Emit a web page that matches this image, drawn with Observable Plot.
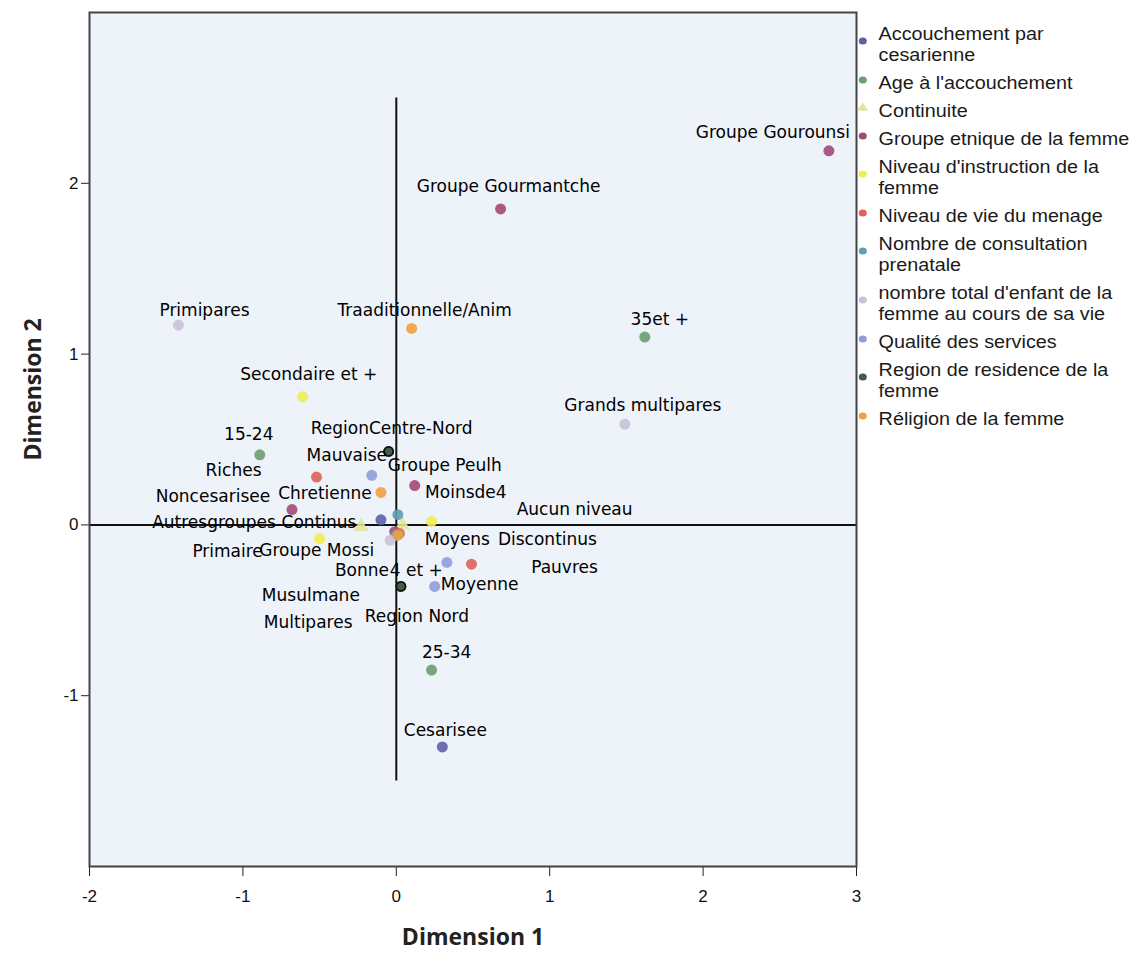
<!DOCTYPE html>
<html>
<head>
<meta charset="utf-8">
<script src="https://cdn.jsdelivr.net/npm/d3@7"></script>
<script src="https://cdn.jsdelivr.net/npm/@observablehq/plot@0.6"></script>
<style>
  body { margin: 0; background: #fff; }
  #wrap { position: relative; width: 1136px; height: 956px; overflow: hidden; }
  #chart { position: absolute; left: 0; top: 0; }
  #legend { position: absolute; left: 856px; top: 24px; font-family: "Liberation Sans", Arial, sans-serif; font-size: 17.5px; color: #1a1a1a; transform: scaleX(1.13); transform-origin: 0 0; }
  .item { position: relative; padding-left: 20px; line-height: 21px; margin-bottom: 7px; white-space: pre; }
  .item svg { position: absolute; left: 0; }
</style>
</head>
<body>
<div id="wrap">
  <div id="chart"></div>
  <div id="legend"></div>
</div>
<script>
// ---- Data ----
const groups = [
  "Accouchement par cesarienne",
  "Age à l'accouchement",
  "Continuite",
  "Groupe etnique de la femme",
  "Niveau d'instruction de la femme",
  "Niveau de vie du menage",
  "Nombre de consultation prenatale",
  "nombre total d'enfant de la femme au cours de sa vie",
  "Qualité des services",
  "Region de residence de la femme",
  "Réligion de la femme"
];
const legendLabels = [
  "Accouchement par\ncesarienne",
  "Age à l'accouchement",
  "Continuite",
  "Groupe etnique de la femme",
  "Niveau d'instruction de la\nfemme",
  "Niveau de vie du menage",
  "Nombre de consultation\nprenatale",
  "nombre total d'enfant de la\nfemme au cours de sa vie",
  "Qualité des services",
  "Region de residence de la\nfemme",
  "Réligion de la femme"
];
const groupColors = ["#5d60a8", "#6a9f70", "#e3e39a", "#a04a78", "#f0ee52", "#e0625a", "#5c9fae", "#c9c2d8", "#8f9ddc", "#3f5f49", "#f0a040"];
const groupSymbols = ["circle", "circle", "triangle", "circle", "circle", "circle", "circle", "circle", "circle", "circle", "circle"];

const categories = [
  "Cesarisee", "Noncesarisee",
  "15-24", "25-34", "35et +",
  "Continus", "Discontinus",
  "Groupe Gourounsi", "Groupe Gourmantche", "Groupe Peulh", "Autresgroupes", "Groupe Mossi",
  "Secondaire et +", "Primaire", "Aucun niveau",
  "Riches", "Moyens", "Pauvres",
  "Moinsde4", "4 et +",
  "Primipares", "Grands multipares", "Multipares",
  "Mauvaise", "Moyenne", "Bonne",
  "RegionCentre-Nord", "Region Nord",
  "Traaditionnelle/Anim", "Chretienne", "Musulmane"
];
const categoryGroup = [0, 0, 1, 1, 1, 2, 2, 3, 3, 3, 3, 3, 4, 4, 4, 5, 5, 5, 6, 6, 7, 7, 7, 8, 8, 8, 9, 9, 10, 10, 10];
const dim1 = [0.30, -0.10, -0.89, 0.23, 1.62, -0.23, 0.04, 2.82, 0.68, 0.12, -0.68, -0.01, -0.61, -0.50, 0.23, -0.52, 0.02, 0.49, 0.01, 0.00, -1.42, 1.49, -0.04, -0.16, 0.25, 0.33, -0.05, 0.03, 0.10, -0.10, 0.01];
const dim2 = [-1.30, 0.03, 0.41, -0.85, 1.10, -0.01, 0.00, 2.19, 1.85, 0.23, 0.09, -0.04, 0.75, -0.08, 0.02, 0.28, -0.05, -0.23, 0.06, -0.06, 1.17, 0.59, -0.09, 0.29, -0.36, -0.22, 0.43, -0.36, 1.15, 0.19, -0.06];

const xTicks = [-2, -1, 0, 1, 2, 3];
const yTicks = [-1, 0, 1, 2];
const refX = [{x: 0, y1: 2.5, y2: -1.5}];
const refY = [0];

// ---- Layout (label offsets in px, relative to point) ----
const labelDx = [3, -168, -11, 15, 15, -42, 145, -56, 8, 30, -78, -78, 6, -92, 143, -83, 58, 93, 68, 20, 26, 18, -82, -25, 45, -85, 3, 16, 13, -56, -87];
const labelDy = [-16, -23, -20, -18, -17, -4, 15, -18, -22, -20, 13, 19, -22, 13, -12, -7, 6, 3, -22, 35, -15, -19, 82, -20, -2, 8, -23, 30, -18, 1, 60];

const data = categories.map((name, i) => ({
  name,
  group: groups[categoryGroup[i]],
  symbol: groupSymbols[categoryGroup[i]],
  x: dim1[i],
  y: dim2[i],
  dx: labelDx[i],
  dy: labelDy[i]
}));

const labelFont = "DejaVu Sans, sans-serif";

const textMarks = data.map(d => Plot.text([d], {
  x: "x", y: "y", text: "name", dx: d.dx, dy: d.dy,
  fontSize: 17, fontFamily: labelFont, fill: "#000", textAnchor: "middle", lineAnchor: "middle"
}));

const chart = Plot.plot({
  width: 1136,
  height: 956,
  marginLeft: 89,
  marginRight: 280,
  marginTop: 12,
  marginBottom: 90,
  x: {domain: [-2, 3]},
  y: {domain: [-2, 3]},
  color: {domain: groups, range: groupColors},
  symbol: {domain: ["circle", "triangle"], range: ["circle", "triangle"]},
  style: {fontFamily: "Liberation Sans, Arial, sans-serif", background: "transparent", overflow: "visible", color: "#111"},
  marks: [
    Plot.frame({fill: "#eef2f9"}),
    Plot.ruleY(refY, {stroke: "#111", strokeWidth: 2}),
    Plot.ruleX(refX, {x: "x", y1: "y1", y2: "y2", stroke: "#111", strokeWidth: 2}),
    Plot.dot(data, {x: "x", y: "y", fill: "group", symbol: "symbol", r: 5.5, fillOpacity: 0.9}),
    Plot.dot(data.filter(d => d.group === groups[9]), {x: "x", y: "y", fill: "group", r: 4.5, stroke: "#111", strokeWidth: 1.8}),
    ...textMarks,
    Plot.axisX({ticks: xTicks, tickSize: 10, tickPadding: 13, fontSize: 17, tickFormat: d => String(d), label: null, stroke: "#222"}),
    Plot.axisY({ticks: yTicks, tickSize: 8, tickPadding: 3, fontSize: 17, tickFormat: d => String(d), label: null, stroke: "#222"}),
    Plot.frame({stroke: "#444", strokeWidth: 2}),
    Plot.text(["Dimension 1"], {frameAnchor: "bottom", dy: 78, fontSize: 23, fontWeight: "bold", fontFamily: "Open Sans, DejaVu Sans, sans-serif", fill: "#222"}),
    Plot.text(["Dimension 2"], {frameAnchor: "left", dx: -56, dy: 21, rotate: -90, fontSize: 23, fontWeight: "bold", fontFamily: "Open Sans, DejaVu Sans, sans-serif", fill: "#222"})
  ]
});
document.getElementById("chart").appendChild(chart);

// ---- Legend ----
const legend = d3.select("#legend");
legendLabels.forEach((lab, i) => {
  const lines = lab.split("\n").length;
  const item = legend.append("div").attr("class", "item").text(lab);
  const cy = lines * 21 / 2 - 4;
  const svg = item.append("svg").attr("width", 14).attr("height", 14).style("top", (cy - 7) + "px");
  const sym = groupSymbols[i] === "triangle" ? d3.symbolTriangle : d3.symbolCircle;
  svg.append("path")
    .attr("transform", "translate(6,7)")
    .attr("d", d3.symbol(sym, 40)())
    .attr("fill", groupColors[i]);
});
</script>
</body>
</html>
